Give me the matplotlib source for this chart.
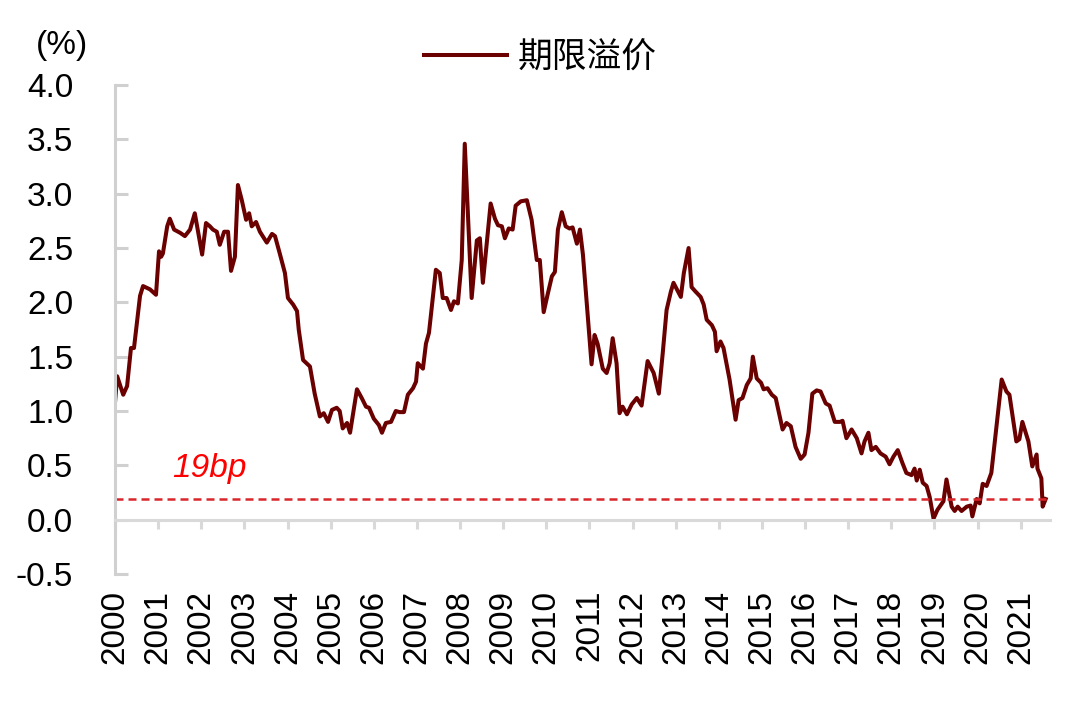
import matplotlib.pyplot as plt

plt.rcParams['font.family'] = ['Liberation Sans', 'Noto Sans CJK SC', 'DejaVu Sans']

# 期限溢价 (%) as (decimal year, value)
dates = [2000.00, 2000.05, 2000.19, 2000.28, 2000.37, 2000.44, 2000.58, 2000.65, 2000.81, 2000.95,
         2001.02, 2001.07, 2001.11, 2001.21, 2001.27, 2001.37, 2001.51, 2001.62, 2001.74, 2001.85,
         2002.02, 2002.11, 2002.20, 2002.27, 2002.36, 2002.43, 2002.53, 2002.62, 2002.69, 2002.78,
         2002.85, 2002.94, 2003.04, 2003.11, 2003.17, 2003.27, 2003.36, 2003.52, 2003.64, 2003.71,
         2003.82, 2003.94, 2004.01, 2004.13, 2004.22, 2004.26, 2004.36, 2004.52, 2004.63, 2004.75,
         2004.84, 2004.94, 2005.03, 2005.14, 2005.21, 2005.28, 2005.38, 2005.45, 2005.61, 2005.72,
         2005.82, 2005.89, 2006.00, 2006.12, 2006.19, 2006.28, 2006.40, 2006.51, 2006.60, 2006.70,
         2006.79, 2006.91, 2006.98, 2007.02, 2007.14, 2007.21, 2007.28, 2007.44, 2007.53, 2007.60,
         2007.69, 2007.79, 2007.86, 2007.95, 2008.04, 2008.11, 2008.27, 2008.39, 2008.46, 2008.53,
         2008.71, 2008.81, 2008.88, 2008.97, 2009.04, 2009.13, 2009.22, 2009.29, 2009.41, 2009.55,
         2009.66, 2009.78, 2009.85, 2009.94, 2010.03, 2010.13, 2010.20, 2010.27, 2010.36, 2010.45,
         2010.54, 2010.61, 2010.71, 2010.78, 2010.85, 2011.05, 2011.12, 2011.19, 2011.31, 2011.40,
         2011.47, 2011.54, 2011.63, 2011.70, 2011.77, 2011.87, 2011.98, 2012.10, 2012.21, 2012.35,
         2012.49, 2012.61, 2012.70, 2012.79, 2012.89, 2012.95, 2013.12, 2013.19, 2013.30, 2013.37,
         2013.46, 2013.58, 2013.65, 2013.72, 2013.84, 2013.91, 2013.95, 2014.04, 2014.11, 2014.25,
         2014.39, 2014.46, 2014.55, 2014.65, 2014.74, 2014.79, 2014.88, 2014.98, 2015.04, 2015.13,
         2015.23, 2015.32, 2015.48, 2015.57, 2015.67, 2015.78, 2015.90, 2015.99, 2016.08, 2016.17,
         2016.27, 2016.36, 2016.48, 2016.57, 2016.69, 2016.81, 2016.87, 2016.96, 2017.08, 2017.20,
         2017.31, 2017.38, 2017.47, 2017.54, 2017.64, 2017.75, 2017.87, 2017.96, 2018.05, 2018.15,
         2018.26, 2018.35, 2018.47, 2018.54, 2018.59, 2018.66, 2018.73, 2018.82, 2018.89, 2018.98,
         2019.07, 2019.21, 2019.28, 2019.40, 2019.47, 2019.54, 2019.63, 2019.75, 2019.84, 2019.88,
         2019.98, 2020.05, 2020.12, 2020.21, 2020.32, 2020.44, 2020.56, 2020.67, 2020.74, 2020.90,
         2020.97, 2021.04, 2021.18, 2021.27, 2021.37, 2021.39, 2021.48, 2021.51, 2021.58]
values = [1.08, 1.32, 1.15, 1.23, 1.58, 1.58, 2.06, 2.15, 2.12, 2.07,
          2.47, 2.42, 2.45, 2.70, 2.77, 2.67, 2.64, 2.61, 2.67, 2.82,
          2.44, 2.73, 2.70, 2.67, 2.65, 2.53, 2.65, 2.65, 2.29, 2.42,
          3.08, 2.94, 2.76, 2.82, 2.70, 2.74, 2.65, 2.55, 2.63, 2.61,
          2.45, 2.27, 2.04, 1.98, 1.92, 1.75, 1.47, 1.41, 1.16, 0.95,
          0.98, 0.90, 1.01, 1.03, 1.00, 0.84, 0.89, 0.80, 1.20, 1.12,
          1.04, 1.03, 0.93, 0.87, 0.80, 0.89, 0.90, 1.00, 0.99, 0.99,
          1.15, 1.21, 1.27, 1.44, 1.39, 1.62, 1.72, 2.30, 2.27, 2.04,
          2.04, 1.93, 2.01, 1.99, 2.39, 3.46, 2.04, 2.57, 2.59, 2.18,
          2.91, 2.77, 2.71, 2.70, 2.59, 2.68, 2.67, 2.89, 2.93, 2.94,
          2.76, 2.39, 2.39, 1.91, 2.07, 2.24, 2.28, 2.67, 2.83, 2.70,
          2.68, 2.69, 2.54, 2.67, 2.44, 1.43, 1.70, 1.62, 1.39, 1.35,
          1.44, 1.67, 1.44, 0.98, 1.04, 0.97, 1.06, 1.12, 1.05, 1.46,
          1.35, 1.16, 1.53, 1.93, 2.10, 2.18, 2.05, 2.27, 2.50, 2.14,
          2.10, 2.05, 1.98, 1.84, 1.79, 1.73, 1.55, 1.64, 1.58, 1.29,
          0.92, 1.10, 1.12, 1.24, 1.30, 1.50, 1.30, 1.26, 1.20, 1.21,
          1.15, 1.12, 0.83, 0.89, 0.86, 0.67, 0.56, 0.60, 0.80, 1.16,
          1.19, 1.18, 1.07, 1.05, 0.90, 0.90, 0.91, 0.75, 0.83, 0.75,
          0.61, 0.72, 0.80, 0.64, 0.67, 0.61, 0.58, 0.51, 0.58, 0.64,
          0.52, 0.43, 0.41, 0.47, 0.36, 0.46, 0.34, 0.31, 0.21, 0.01,
          0.09, 0.17, 0.37, 0.12, 0.08, 0.12, 0.08, 0.12, 0.13, 0.03,
          0.19, 0.15, 0.33, 0.31, 0.43, 0.86, 1.29, 1.18, 1.15, 0.72,
          0.74, 0.90, 0.72, 0.49, 0.60, 0.47, 0.38, 0.12, 0.19]

years = list(range(2000, 2022))
ref_level = 0.19

fig = plt.figure(figsize=(10.8, 7.03), dpi=100)
ax = fig.add_axes([0.1065, 0.1835, 0.8657, 0.6955])

ax.plot(dates, values, '-', color='#6B0000', linewidth=2.9, label='期限溢价',
        solid_joinstyle='round')
ax.axhline(ref_level, color='#D9262B', linewidth=1.8, linestyle=(0, (3.2, 2)))
ax.text(2001.32, 0.39, '19bp', color='#FF0000', fontsize=24, style='italic', va='baseline')

ax.set_xlim(2000, 2021.68)
ax.set_ylim(-0.5, 4.0)
ax.set_yticks([-0.5, 0, 0.5, 1.0, 1.5, 2.0, 2.5, 3.0, 3.5, 4.0])
ax.set_yticklabels(['-0.5', '0.0', '0.5', '1.0', '1.5', '2.0', '2.5', '3.0', '3.5', '4.0'])
ax.set_xticks(years)
ax.set_xticklabels([str(y) for y in years])

for s in ['top', 'right']:
    ax.spines[s].set_visible(False)
ax.spines['left'].set_color('#D0D0D0')
ax.spines['left'].set_linewidth(2.2)
ax.spines['bottom'].set_position(('data', 0))
ax.spines['bottom'].set_color('#D9D9D9')
ax.spines['bottom'].set_linewidth(2.2)
ax.tick_params(axis='y', direction='in', colors='#D0D0D0', labelcolor='black',
               labelsize=24, length=9, width=2.2, pad=30)
ax.tick_params(axis='x', direction='out', colors='#D9D9D9', labelcolor='black',
               labelsize=24, labelrotation=90, length=6.5, width=2.2, pad=44)

fig.text(0.033, 0.935, '(%)', fontsize=24, ha='left', va='center')
fig.legend(loc='center', bbox_to_anchor=(0.5, 0.918), frameon=False, fontsize=25,
           handlelength=2.4, handletextpad=0.3)

fig.savefig('out.png', dpi=100)
